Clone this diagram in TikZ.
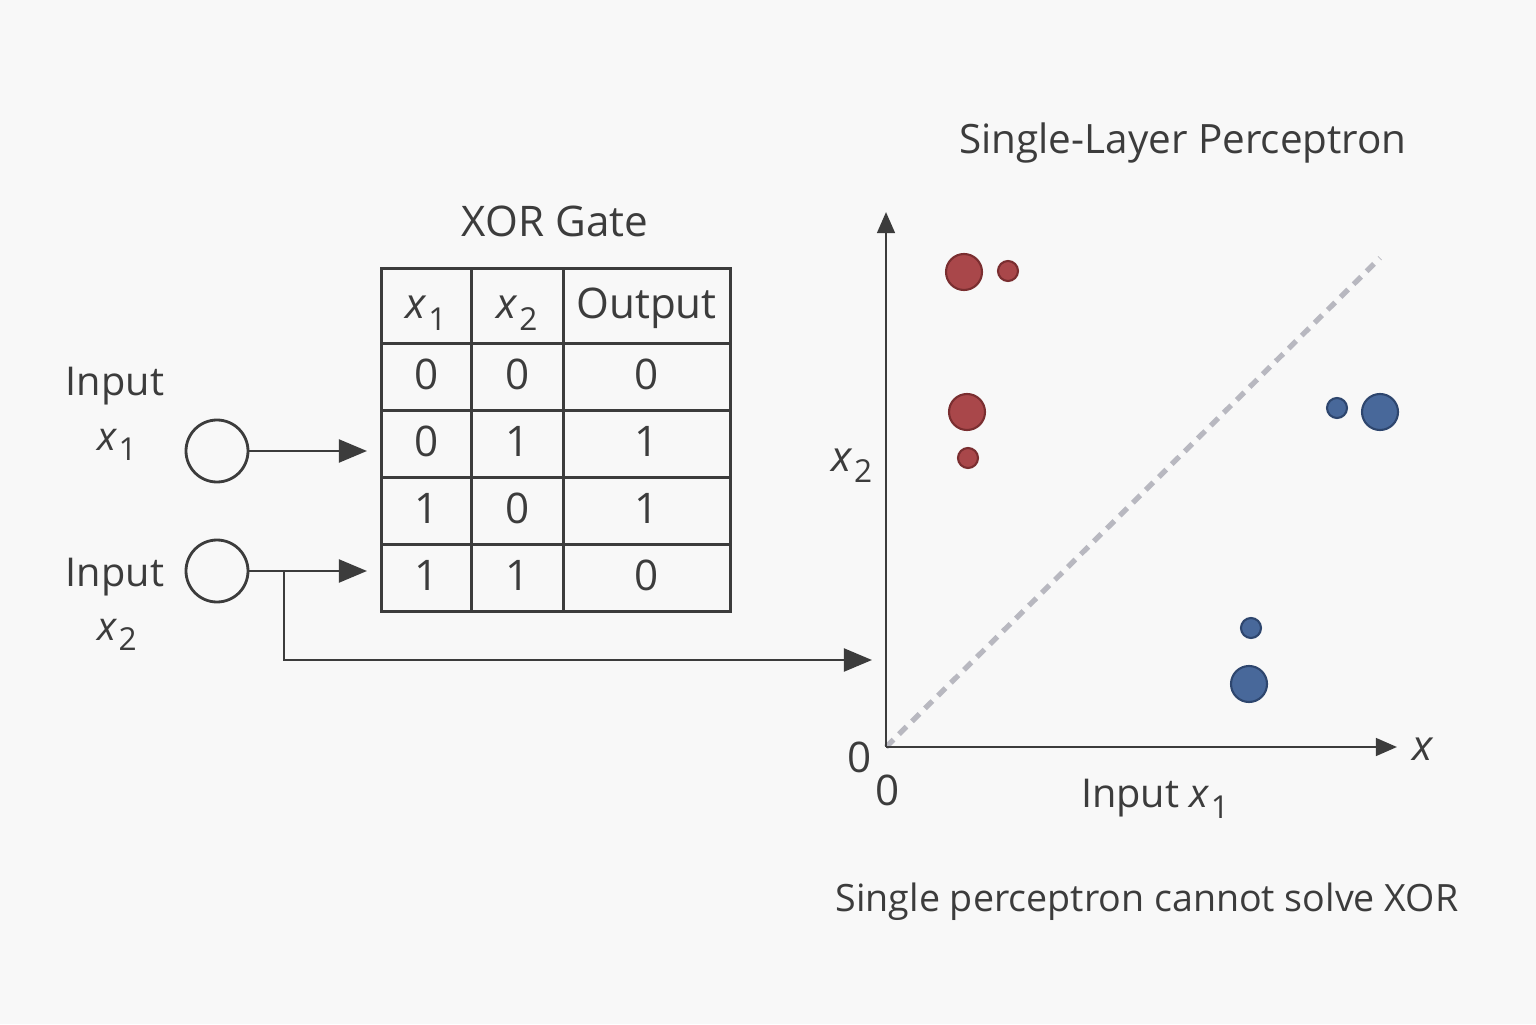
\documentclass[tikz,border=0pt]{standalone}
\usepackage{fontspec}
\setmainfont{Open Sans}
\usepackage{xcolor}
\usetikzlibrary{positioning, arrows.meta, matrix}

\definecolor{ink}{HTML}{3C3C3C}
\definecolor{paper}{HTML}{F8F8F8}
\definecolor{redpt}{HTML}{A9474A}
\definecolor{redrim}{HTML}{7A2E30}
\definecolor{bluept}{HTML}{48689A}
\definecolor{bluerim}{HTML}{2E466E}
\definecolor{sepline}{HTML}{B8B8C0}

% variable with a lowered index
\newcommand{\xvar}[1]{\textit{x}\kern0.3pt\raisebox{-0.5ex}{\fontsize{9}{10}\selectfont #1}}

\begin{document}
\begin{tikzpicture}[
    font=\fontsize{12}{14}\selectfont,
    text=ink,
    cell/.style={
        rectangle,
        draw=ink,
        thick,
        minimum height=0.67cm,
        text height=0.95em,
        text depth=0.2em,
        inner sep=0pt
    },
    inputnode/.style={
        circle,
        draw=ink,
        thick,
        minimum size=0.62cm
    },
    arrow/.style={
        ink,
        thick,
        -{Triangle[length=8pt,width=6.5pt]}
    },
    axis/.style={
        ink,
        thick,
        -{Triangle[length=6pt,width=5pt]}
    },
    bigdot/.style={
        circle,
        minimum size=0.36cm,
        inner sep=0pt,
        line width=0.6pt
    },
    smalldot/.style={
        circle,
        minimum size=0.2cm,
        inner sep=0pt,
        line width=0.6pt
    },
    classA/.style={fill=redpt, draw=redrim},
    classB/.style={fill=bluept, draw=bluerim}
]

% Canvas
\fill[paper] (0,0) rectangle (15.36,10.24);
\useasboundingbox (0,0) rectangle (15.36,10.24);

% Truth table
\node (gatetitle) at (5.55,8.03) {XOR Gate};

\matrix (tt) [
    matrix of nodes,
    anchor=north west,
    inner sep=0pt,
    nodes={cell},
    column sep=-0.8pt,
    row sep=-0.8pt,
    column 1/.style={nodes={minimum width=0.9cm}},
    column 2/.style={nodes={minimum width=0.92cm}},
    column 3/.style={nodes={minimum width=1.67cm}},
    row 1/.style={nodes={minimum height=0.75cm}}
] at (3.79,7.58) {
    \xvar{1} & \xvar{2} & Output \\
    0 & 0 & 0 \\
    0 & 1 & 1 \\
    1 & 0 & 1 \\
    1 & 1 & 0 \\
};

% Inputs
\node[inputnode] (in1) at (2.17,5.73) {};
\node[inputnode] (in2) at (2.17,4.53) {};

\begin{scope}[font=\fontsize{11.3}{13}\selectfont]
\node (in1label) at (1.15,6.38) {Input};
\node (in1var) at (1.17,5.79) {\xvar{1}};
\node (in2label) at (1.15,4.47) {Input};
\node (in2var) at (1.17,3.89) {\xvar{2}};
\end{scope}

% Plot
\node[font=\fontsize{11.5}{13}\selectfont] (plottitle) at (11.83,8.81) {Single-Layer Perceptron};

\coordinate (origin) at (8.86,2.77);
\coordinate (ytip) at (8.86,8.12);
\coordinate (xtip) at (13.97,2.77);
\coordinate (diagend) at (13.80,7.66);

\draw[sepline, line width=1.5pt, dash pattern=on 3pt off 2.2pt] (origin) -- (diagend);
\draw[axis] (origin) -- (ytip);
\draw[axis] (origin) -- (xtip);

\node (xname) at (14.23,2.75) {\textit{x}};
\node (yzero) at (8.60,2.67) {0};
\node (xzero) at (8.88,2.34) {0};
\node (yname) at (8.52,5.58) {\xvar{2}};
\node[font=\fontsize{11.3}{13}\selectfont] (xlabel) at (11.55,2.25) {Input \xvar{1}};

% Class 1 points
\node[bigdot, classA] (r1) at (9.64,7.52) {};
\node[smalldot, classA] (r2) at (10.08,7.53) {};
\node[bigdot, classA] (r3) at (9.67,6.12) {};
\node[smalldot, classA] (r4) at (9.68,5.66) {};

% Class 0 points
\node[smalldot, classB] (b1) at (13.37,6.16) {};
\node[bigdot, classB] (b2) at (13.80,6.12) {};
\node[smalldot, classB] (b3) at (12.51,3.96) {};
\node[bigdot, classB] (b4) at (12.49,3.40) {};

\node[font=\fontsize{10.7}{13}\selectfont] (caption) at (11.47,1.22) {Single perceptron cannot solve XOR};

% Arrows
\coordinate (split) at (2.84,4.53);
\coordinate (feed) at (8.72,3.64);

\draw[arrow, shorten >=0.12cm] (in1.east) -- (in1 -| tt.west);
\draw[arrow, shorten >=0.12cm] (in2.east) -- (in2 -| tt.west);
\draw[arrow] (split) |- (feed);

\end{tikzpicture}
\end{document}
